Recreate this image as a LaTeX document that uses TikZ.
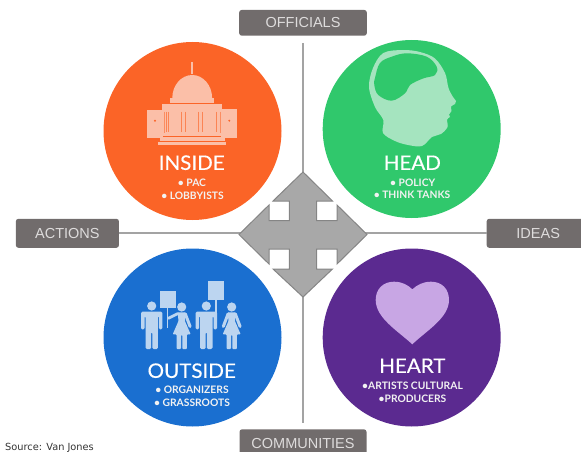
\documentclass[tikz,border=0pt]{standalone}
\usepackage{fontspec}
\setmainfont{Lato}
\newfontfamily\tagfont{Liberation Sans}
\newfontfamily\srcfont{DejaVu Sans}
\newfontfamily\titlefont[FakeBold=0.35,FakeStretch=1.03]{Lato}
\definecolor{tagfill}{HTML}{716C6C}
\definecolor{tagtext}{HTML}{DEDCDC}
\definecolor{linegray}{HTML}{A3A3A3}
\definecolor{arrowfill}{HTML}{A8A8A8}
\definecolor{arrowedge}{HTML}{858585}
\definecolor{cOrange}{HTML}{FB6427}
\definecolor{lOrange}{HTML}{FBBFA8}
\definecolor{cGreen}{HTML}{30C86C}
\definecolor{lGreen}{HTML}{A5E4BF}
\definecolor{cBlue}{HTML}{1A6FD0}
\definecolor{lBlue}{HTML}{BCD5F0}
\definecolor{cPurple}{HTML}{5B2A90}
\definecolor{lPurple}{HTML}{C8A6E4}
\tikzset{
  x=1pt,y=-1pt,
  tagbox/.style={fill=tagfill,rounded corners=2.5pt,minimum width=103pt,minimum height=29pt,inner sep=0pt,
     text=tagtext,font=\tagfont\fontsize{14.5}{16}\selectfont,text height=10.4pt,text depth=0pt},
  ball/.style={circle,minimum size=178pt,inner sep=0pt},
  title/.style={text=white,inner sep=0pt,font=\titlefont\fontsize{20}{22}\selectfont},
  sub/.style={text=white!95!black,inner sep=0pt,font=\bfseries\fontsize{10.3}{12}\selectfont},
  connector/.style={draw=linegray,line width=2pt},
  man/.pic={
    \fill (0,0) circle (4.6);
    \fill[rounded corners=1.3] (-10.7,5.7) -- (10.7,5.7) -- (10.7,23.3) -- (7.2,23.3) -- (7.2,10) -- (6.2,10) -- (6.2,43) -- (0.6,43) -- (0.6,26) -- (-0.6,26) -- (-0.6,43) -- (-6.2,43) -- (-6.2,10) -- (-7.2,10) -- (-7.2,23.3) -- (-10.7,23.3) -- cycle;
  },
  woman/.pic={
    \fill (0,0) circle (4.6);
    \fill[rounded corners=0.8] (-4,5.3) -- (4,5.3) -- (3.2,14) -- (9,27.3) -- (5.2,27.3) -- (5.2,42) -- (0.7,42) -- (0.7,28) -- (-0.7,28) -- (-0.7,42) -- (-5.2,42) -- (-5.2,27.3) -- (-9,27.3) -- (-3.2,14) -- cycle;
    \draw[line width=3pt,line cap=round] (3.6,6.8) -- (8.4,19.5);
  },
}
\begin{document}
\begin{tikzpicture}
\clip (0,0) rectangle (581,452);
% tags
\node[tagbox,minimum width=127.6pt,minimum height=25.7pt] (officials) at (303,22.8) {OFFICIALS};
\node[tagbox,minimum width=127pt,minimum height=28.7pt] (communities) at (303,443.7) {COMMUNITIES};
\node[tagbox] (actions) at (67.4,233.3) {ACTIONS};
\node[tagbox] (ideas) at (538.2,233.3) {IDEAS};
% connectors
\draw[connector,shorten <=7pt,shorten >=6.5pt] (officials.south) -- (communities.north);
\draw[connector] (actions.east) -- (ideas.west);
% circles
\node[ball,fill=cOrange] (inside) at (192.5,131) {};
\node[ball,fill=cGreen] (head) at (411.7,129) {};
\node[ball,fill=cBlue] (outside) at (192.5,337.5) {};
\node[ball,fill=cPurple] (heart) at (411.7,337.5) {};
% central four-way arrow
\filldraw[fill=arrowfill,draw=arrowedge,line width=1pt,line join=miter]
  (303,172) -- (332.5,201) -- (316.7,201) -- (316.7,220.7) -- (337,220.7) -- (337,205) -- (367,234.5)
  -- (337,264) -- (337,249) -- (316.7,249) -- (316.7,269) -- (332.5,269) -- (303,297)
  -- (273,269) -- (289.3,269) -- (289.3,249) -- (269,249) -- (269,264) -- (239,234.5)
  -- (269,205) -- (269,220.7) -- (289.3,220.7) -- (289.3,201) -- (273,201) -- cycle;
% capitol
\begin{scope}[lOrange]
  \draw[line width=1.6pt] (191.7,62) -- (191.7,74);
  \fill (172.3,98) arc[start angle=180,end angle=0,x radius=19.9,y radius=-23] -- cycle;
  \fill (170,98) rectangle (214.3,102.7);
  \fill (162,104) rectangle (222.3,110.5);
  \fill (163,111) rectangle (221,133);
  \fill (147,110) rectangle (163.3,138.3);
  \fill (221,109.3) rectangle (236.7,138.3);
  \fill (161.7,133) rectangle (223,136.4);
  \fill (160,137.3) rectangle (225,140.9);
  \fill (158,141.7) rectangle (226,144.7);
\end{scope}
\fill[cOrange] (155,120.7) circle (1.1) (229.3,120.7) circle (1.1);
\draw[lOrange!45!cOrange,line width=0.8pt] (164,111.7) -- (164,133) (220,111.7) -- (220,133);
\draw[lOrange!35!cOrange,line width=0.8pt] (166.5,111.7) -- (166.5,131.7) (168.7,111.7) -- (168.7,131.7)
  (181,111.7) -- (181,131.7) (185.5,111.7) -- (185.5,131.7)
  (198.5,111.7) -- (198.5,131.7) (202.7,111.7) -- (202.7,131.7)
  (216.7,111.7) -- (216.7,131.7);
% head
\fill[lGreen] plot[smooth cycle,tension=0.55] coordinates {
  (383.3,53) (403,50) (420,52) (435,58.5) (445,73) (448.5,88) (453,97) (456,101)
  (455,104) (451,106.5) (451.5,111) (449,114.5) (450,117) (447,119.5) (447.5,127)
  (441,134) (432,137) (422,146) (408,145) (395,141) (383,133) (383.3,120)
  (375,107) (369,87) (373,68)};
\fill[cGreen] plot[smooth cycle,tension=0.6] coordinates {
  (375,78) (380,63) (391.7,56.7) (406.7,53.3) (426.7,56.7) (436.7,66.7) (435,75)
  (423,78.5) (410,85) (405,93.3) (391.7,100.7) (378.3,95) (374.3,85)};
% people
\begin{scope}[lBlue]
  \fill (160,291) rectangle (176,307.7);
  \fill (166.5,307.7) rectangle (168.3,328.3);
  \fill (207.7,280.7) rectangle (224.3,300);
  \fill (215.1,300) rectangle (216.9,324.3);
  \pic at (151.7,306) {man};
  \pic at (181.7,307) {woman};
  \draw[line width=2.8pt,line cap=round] (178,313.5) -- (168.5,318.3);
  \pic at (206.3,306) {man};
  \pic at (231.7,307) {woman};
  \draw[line width=3pt,line cap=round] (228.1,313.8) -- (223.3,326.5);
\end{scope}
% heart
\fill[lPurple] (412.3,344.3)
  .. controls (398,331) and (375.7,318) .. (375.7,300)
  .. controls (375.7,289) and (383,281.7) .. (394,281.7)
  .. controls (402,281.7) and (408,285) .. (412.3,289.3)
  .. controls (417,285) and (423,281.7) .. (431,281.7)
  .. controls (442,281.7) and (449,289) .. (449,300)
  .. controls (449,318) and (426,331) .. (412.3,344.3) -- cycle;
% texts
\node[title] (t1) at (191.7,162.7) {INSIDE};
\node[sub] (t1a) at (192,183) {• PAC};
\node[sub] (t1b) at (192.5,196) {• LOBBYISTS};
\node[title] (t2) at (412.3,162.7) {HEAD};
\node[sub] (t2a) at (412.7,182.3) {• POLICY};
\node[sub] (t2b) at (412,194.3) {• THINK TANKS};
\node[title] (t3) at (191.7,370.7) {OUTSIDE};
\node[sub] (t3a) at (192,390) {• ORGANIZERS};
\node[sub] (t3b) at (192,402.7) {• GRASSROOTS};
\node[title] (t4) at (412.3,365.7) {HEART};
\node[sub] (t4a) at (412.5,386) {•ARTISTS CULTURAL};
\node[sub] (t4b) at (412.5,398.3) {•PRODUCERS};
\node[anchor=base west,inner sep=0pt,text=black!80,font=\srcfont\fontsize{9.8}{11}\selectfont] (src) at (5,450) {Source: Van Jones};
\end{tikzpicture}
\end{document}
